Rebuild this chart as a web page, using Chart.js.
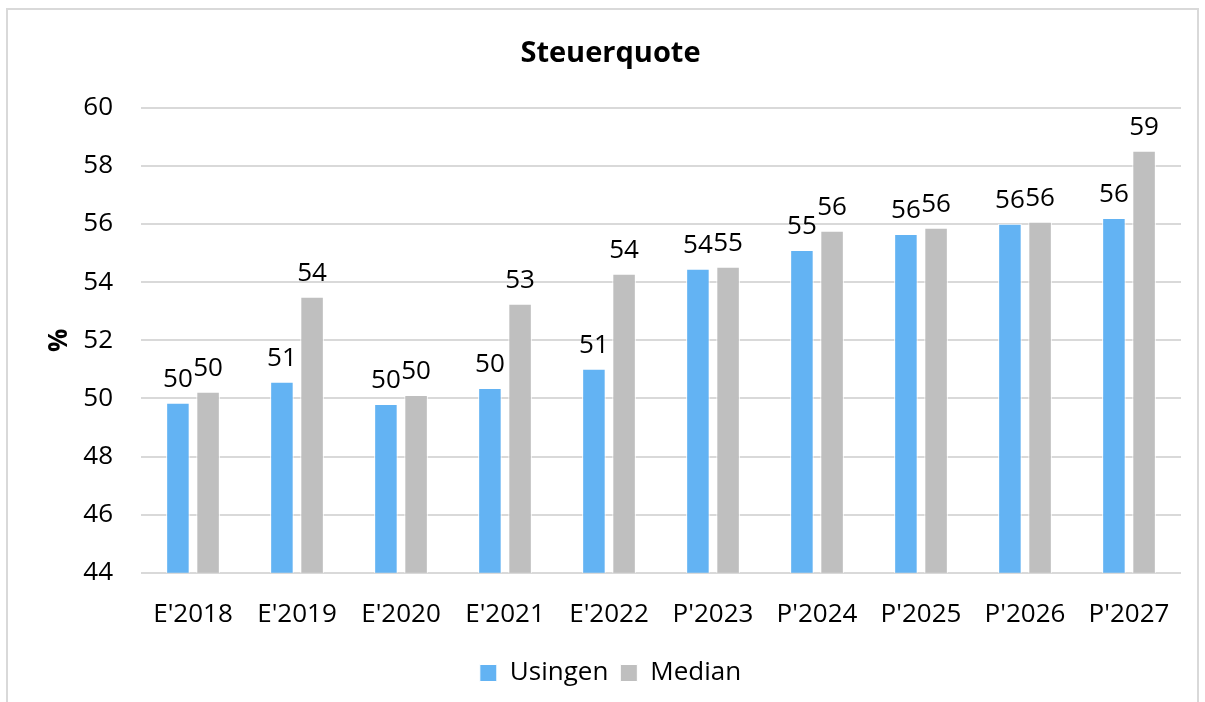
<!DOCTYPE html>
<html>
<head>
<meta charset="utf-8">
<script src="https://cdn.jsdelivr.net/npm/chart.js@4/dist/chart.umd.min.js"></script>
<style>
  body { margin: 0; background: #fff; }
  #frame { position: absolute; left: 6px; top: 8px; width: 1189px; height: 720px; border: 2px solid #d9d9d9; }
  #taxChart { position: absolute; left: 0; top: 0; }
</style>
</head>
<body>
<div id="frame"></div>
<canvas id="taxChart" width="1205" height="702"></canvas>
<script>
var years = ["E'2018", "E'2019", "E'2020", "E'2021", "E'2022", "P'2023", "P'2024", "P'2025", "P'2026", "P'2027"];
var usingen = [49.85, 50.57, 49.81, 50.36, 51.02, 54.46, 55.11, 55.66, 56.01, 56.21];
var median = [50.23, 53.5, 50.12, 53.26, 54.29, 54.53, 55.77, 55.87, 56.08, 58.52];
var yTicks = [44, 46, 48, 50, 52, 54, 56, 58, 60];

var fontFamily = "'Open Sans', 'Noto Sans', sans-serif";

// rounded value above each bar, like the excel data labels
var valueLabels = {
    id: 'valueLabels',
    afterDatasetsDraw: function(chart) {
        var ctx = chart.ctx;
        ctx.save();
        ctx.font = '26px ' + fontFamily;
        ctx.fillStyle = '#000';
        ctx.textAlign = 'center';
        ctx.textBaseline = 'bottom';
        chart.data.datasets.forEach(function(ds, i) {
            chart.getDatasetMeta(i).data.forEach(function(bar, j) {
                ctx.fillText(Math.round(ds.data[j]), bar.x, bar.y - 10);
            });
        });
        ctx.restore();
    }
};

new Chart(document.getElementById('taxChart'), {
    type: 'bar',
    data: {
        labels: years,
        datasets: [{
            label: 'Usingen',
            data: usingen,
            backgroundColor: '#63b3f3',
            borderColor: '#ffffff',
            borderWidth: 1
        }, {
            label: 'Median',
            data: median,
            backgroundColor: '#bfbfbf',
            borderColor: '#ffffff',
            borderWidth: 1
        }]
    },
    options: {
        responsive: false,
        animation: false,
        datasets: {
            bar: { categoryPercentage: 0.58, barPercentage: 0.78 }
        },
        layout: { padding: { top: 10, left: 40, right: 24, bottom: 6 } },
        plugins: {
            title: {
                display: true,
                text: 'Steuerquote',
                color: '#000',
                font: { family: fontFamily, size: 29, weight: 'bold' },
                padding: { top: 26, bottom: 37 }
            },
            legend: {
                position: 'bottom',
                labels: {
                    color: '#000',
                    font: { family: fontFamily, size: 26 },
                    boxWidth: 17,
                    boxHeight: 17,
                    padding: 12
                }
            },
            tooltip: { enabled: false }
        },
        scales: {
            x: {
                grid: { display: false },
                border: { display: false },
                ticks: { color: '#000', font: { family: fontFamily, size: 26 }, padding: 18 }
            },
            y: {
                min: 44,
                max: 60,
                afterBuildTicks: function(scale) {
                    scale.ticks = yTicks.map(function(v) { return { value: v }; });
                },
                afterFit: function(scale) {
                    scale.width = 101;
                },
                grid: { color: '#d9d9d9', lineWidth: 2, drawTicks: false },
                border: { display: false },
                ticks: { color: '#000', font: { family: fontFamily, size: 26 }, padding: 28 },
                title: {
                    display: true,
                    text: '%',
                    color: '#000',
                    font: { family: fontFamily, size: 26, weight: 'bold' },
                    padding: 4
                }
            }
        }
    },
    plugins: [valueLabels]
});
</script>
</body>
</html>
